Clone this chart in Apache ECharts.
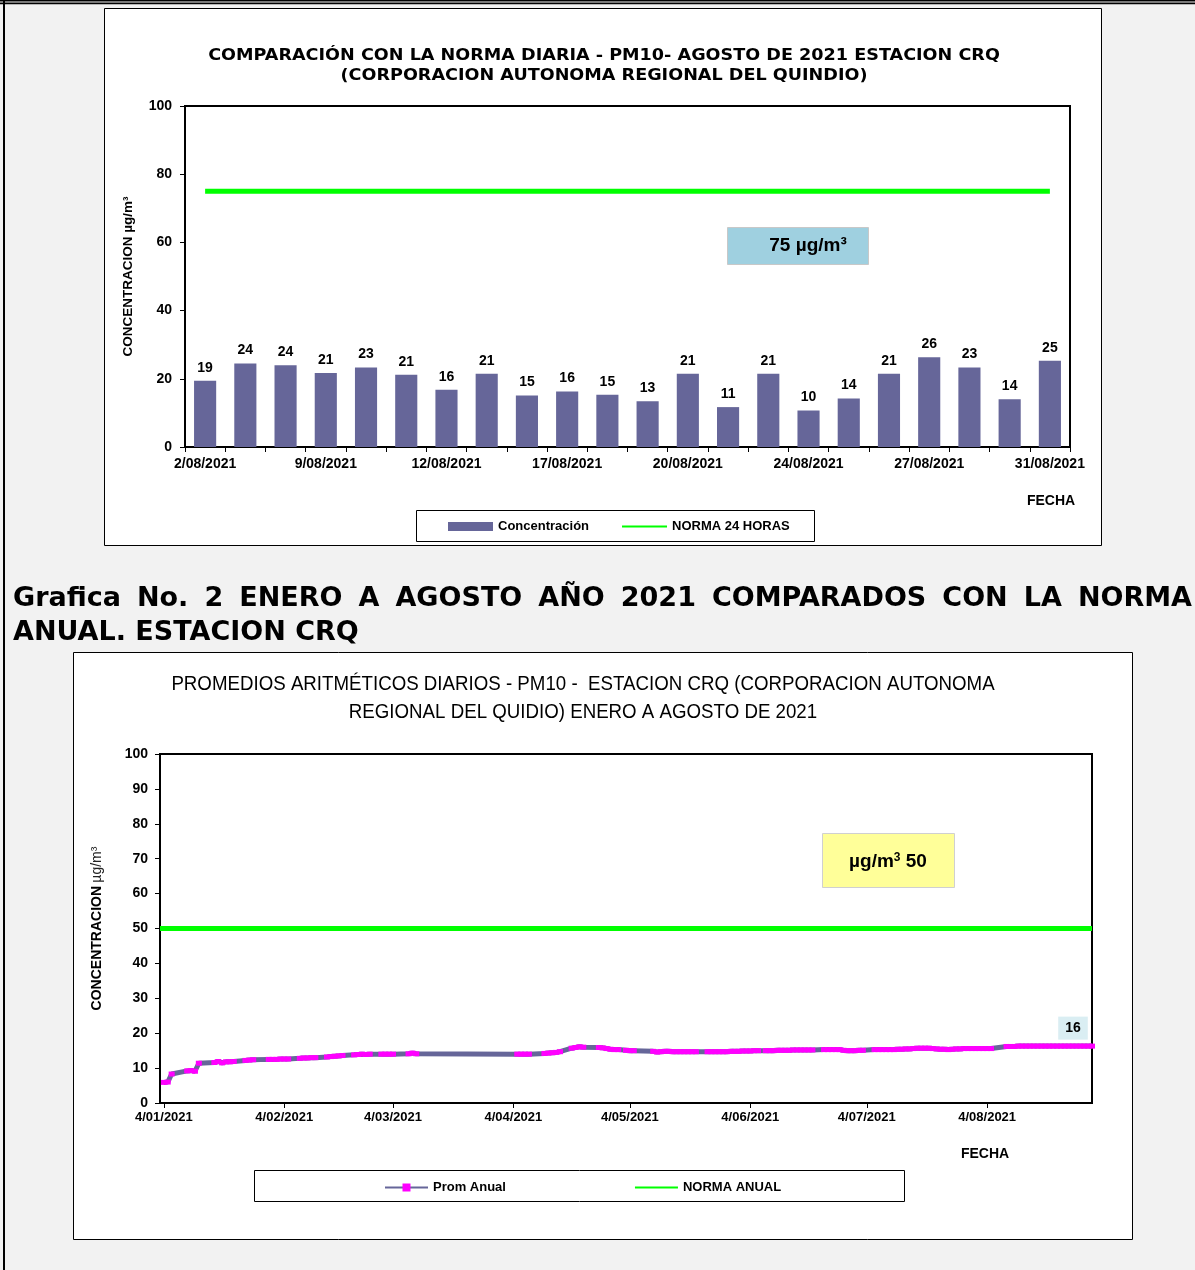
<!DOCTYPE html>
<html><head><meta charset="utf-8">
<script src="https://cdn.jsdelivr.net/npm/echarts@6/dist/echarts.min.js"></script>
<style>html,body{margin:0;padding:0;background:#f2f2f2}#c{width:1195px;height:1270px}</style>
</head><body><div id="c"></div>
<script>
// ---------- Chart 1 data (August 2021 daily PM10) ----------
const barCategories = ['2/08/2021','3/08/2021','5/08/2021','9/08/2021','10/08/2021','11/08/2021','12/08/2021','13/08/2021','16/08/2021','17/08/2021','18/08/2021','19/08/2021','20/08/2021','21/08/2021','23/08/2021','24/08/2021','25/08/2021','26/08/2021','27/08/2021','28/08/2021','30/08/2021','31/08/2021'];
const barValues = [19.4,24.5,24.0,21.7,23.3,21.2,16.8,21.5,15.1,16.3,15.3,13.4,21.5,11.7,21.5,10.7,14.2,21.5,26.3,23.3,14.0,25.3];
const normaDiaria = 75;
const yTicks1 = { min: 0, max: 100, interval: 20 };

// ---------- Chart 2 data (running annual mean, Jan-Aug 2021) ----------
const promJan = [[4,5.9],[5,6.0],[6,8.3],[10,9.2],[11,9.3],[12,9.1],[13,11.4],[17,11.6],[18,11.9],[19,11.5],[20,11.8],[21,11.8],[22,11.9],[25,12.2],[26,12.3],[27,12.4],[31,12.5]];
const promFeb = [[1,12.5],[2,12.5],[3,12.6],[4,12.6],[5,12.6],[8,12.8],[9,12.9],[10,12.9],[11,13.0],[12,13.0],[15,13.2],[16,13.3],[17,13.4],[18,13.5],[19,13.6],[22,13.8],[23,13.9],[24,14.0],[25,13.9],[26,14.0]];
const promMar = [[1,14.0],[2,14.0],[3,14.0],[4,14.0],[8,14.1],[9,14.3],[10,14.1]];
const promApr = [[5,14.0],[6,14.0],[7,14.0],[8,14.0],[12,14.2],[13,14.3],[14,14.4],[15,14.5],[16,14.7],[19,15.7],[20,15.9],[21,16.1],[22,16.0],[26,15.9],[27,15.8],[28,15.6],[29,15.4],[30,15.3]];
const promMay = [[1,15.3],[3,15.1],[4,15.0],[5,15.0],[10,14.8],[11,14.6],[12,14.7],[13,14.8],[14,14.8],[15,14.7],[16,14.7],[17,14.7],[18,14.7],[19,14.7],[20,14.7],[21,14.7],[24,14.7],[25,14.7],[26,14.7],[27,14.7],[28,14.7],[29,14.7],[30,14.8],[31,14.8]];
const promJun = [[1,14.8],[2,14.9],[3,14.9],[4,14.9],[5,15.0],[6,15.0],[8,15.0],[9,15.0],[10,15.0],[11,15.1],[12,15.1],[13,15.1],[14,15.1],[15,15.2],[16,15.2],[17,15.2],[18,15.2],[19,15.2],[20,15.2],[23,15.3],[24,15.3],[25,15.3],[26,15.3],[27,15.3],[28,15.1],[29,15.0],[30,15.0]];
const promJul = [[1,15.0],[2,15.1],[3,15.1],[6,15.3],[7,15.3],[8,15.3],[9,15.3],[10,15.3],[11,15.3],[12,15.4],[13,15.4],[14,15.5],[15,15.5],[16,15.6],[17,15.7],[18,15.7],[19,15.7],[20,15.7],[21,15.6],[22,15.5],[23,15.4],[24,15.4],[25,15.3],[26,15.4],[27,15.5],[28,15.5],[29,15.6],[30,15.6],[31,15.6]];
const promAug = [[1,15.6],[2,15.6],[3,15.6],[4,15.6],[5,15.6],[9,16.2],[10,16.2],[11,16.2],[12,16.3],[13,16.3],[14,16.3],[15,16.3],[16,16.3],[17,16.3],[18,16.3],[19,16.3],[20,16.3],[21,16.3],[22,16.3],[23,16.3],[24,16.3],[25,16.3],[26,16.3],[27,16.3],[28,16.3],[29,16.3],[30,16.3],[31,16.3]];
const normaAnual = 50;
const xStart2 = '2021-01-03', xEnd2 = '2021-08-31';
const xTickDates2 = ['2021-01-04','2021-02-04','2021-03-04','2021-04-04','2021-05-04','2021-06-04','2021-07-04','2021-08-04'];
const yTicks2 = { min: 0, max: 100, interval: 10 };

// ---------- text ----------
const title1 = ['COMPARACIÓN CON LA NORMA DIARIA - PM10- AGOSTO DE 2021 ESTACION CRQ', '(CORPORACION AUTONOMA REGIONAL DEL QUINDIO)'];
const title2 = ['PROMEDIOS ARITMÉTICOS DIARIOS - PM10 -  ESTACION CRQ (CORPORACION AUTONOMA', 'REGIONAL DEL QUIDIO) ENERO A AGOSTO DE 2021'];
const heading = ['Grafica No. 2 ENERO A AGOSTO AÑO 2021 COMPARADOS CON LA NORMA', 'ANUAL. ESTACION CRQ'];

// ---------- helpers ----------
function d(s) { const p = s.split('-').map(Number); return new Date(p[0], p[1]-1, p[2]).getTime(); }
const months = [promJan,promFeb,promMar,promApr,promMay,promJun,promJul,promAug];
const promData = [];
months.forEach((arr, m) => arr.forEach(([day, v]) => promData.push({ value: [new Date(2021, m, day).getTime(), v] })));
promData[promData.length-1].label = {
  show: true, position: 'top', distance: 4, offset: [-19, 0],
  formatter: p => Math.round(p.value[1]), fontWeight: 'bold', fontSize: 14, fontFamily: 'Liberation Sans, Arial',
  color: '#000', backgroundColor: '#daeef3', padding: [5, 7, 4, 7]
};
function fmtDate(v) { const t = new Date(v); return t.getDate() + '/' + String(t.getMonth()+1).padStart(2,'0') + '/' + t.getFullYear(); }

const AR = 'Liberation Sans, Arial, sans-serif';
const hidden = { color:'rgba(0,0,0,0)', borderWidth:0 };
const graphics = [];
// page frame
graphics.push({ type:'rect', z:-20, shape:{x:0,y:0,width:1195,height:1.6}, style:{fill:'#000'} });
graphics.push({ type:'rect', z:-20, shape:{x:0,y:2.6,width:1195,height:1.6}, style:{fill:'#000'} });
graphics.push({ type:'rect', z:-20, shape:{x:3,y:0,width:2,height:1270}, style:{fill:'#000'} });
// chart boxes
graphics.push({ type:'rect', z:-10, shape:{x:104.5,y:8.5,width:997,height:537}, style:{fill:'#fff', stroke:'#000', lineWidth:1} });
graphics.push({ type:'rect', z:-10, shape:{x:73.5,y:652.5,width:1059,height:587}, style:{fill:'#fff', stroke:'#000', lineWidth:1} });
// legend boxes
graphics.push({ type:'rect', z:-5, shape:{x:416.5,y:510.5,width:398,height:31}, style:{fill:'#fff', stroke:'#000', lineWidth:1} });
graphics.push({ type:'rect', z:-5, shape:{x:254.5,y:1170.5,width:650,height:31}, style:{fill:'#fff', stroke:'#000', lineWidth:1} });
// titles chart 1
graphics.push({ type:'text', z:50, scaleX:1.1, originX:604, style:{ text:title1[0], x:604, y:56, align:'center', verticalAlign:'middle', font:'bold 16px "DejaVu Sans"', fill:'#000' } });
graphics.push({ type:'text', z:50, scaleX:1.1, originX:604, style:{ text:title1[1], x:604, y:76, align:'center', verticalAlign:'middle', font:'bold 16px "DejaVu Sans"', fill:'#000' } });
// titles chart 2
graphics.push({ type:'text', z:50, scaleX:0.935, originX:583, style:{ text:title2[0], x:583, y:684, align:'center', verticalAlign:'middle', font:'20px "Liberation Sans"', fill:'#000' } });
graphics.push({ type:'text', z:50, scaleX:0.935, originX:583, style:{ text:title2[1], x:583, y:712, align:'center', verticalAlign:'middle', font:'20px "Liberation Sans"', fill:'#000' } });
// annotation boxes
graphics.push({ type:'rect', z:20, shape:{x:727.5,y:227.5,width:141,height:37}, style:{fill:'#9fd0e0', stroke:'#c8c8c8', lineWidth:1} });
graphics.push({ type:'text', z:21, style:{ text:'75 µg/m³', x:808, y:246, align:'center', verticalAlign:'middle', font:'bold 19px '+AR, fill:'#000' } });
graphics.push({ type:'rect', z:20, shape:{x:822.5,y:833.5,width:132,height:54}, style:{fill:'#ffff99', stroke:'#d0d0d0', lineWidth:1} });
graphics.push({ type:'text', z:21, style:{ text:'{a|µg/m}{s|3}{a| 50}', x:888, y:862, align:'center', verticalAlign:'middle',
  rich:{ a:{ font:'bold 19px '+AR, fill:'#000' }, s:{ font:'bold 12px '+AR, fill:'#000', verticalAlign:'top', padding:[0,0,8,0] } } } });
// FECHA labels
graphics.push({ type:'text', z:21, style:{ text:'FECHA', x:1051, y:501, align:'center', verticalAlign:'middle', font:'bold 14px '+AR, fill:'#000' } });
graphics.push({ type:'text', z:21, style:{ text:'FECHA', x:985, y:1154, align:'center', verticalAlign:'middle', font:'bold 14px '+AR, fill:'#000' } });
// heading (justified first line)
const HF = 'bold 27px "DejaVu Sans"';
const ctx = document.createElement('canvas').getContext('2d');
ctx.font = HF;
const words = heading[0].split(' ');
const widths = words.map(w => ctx.measureText(w).width);
const gap = (1192 - 13 - widths.reduce((a,b)=>a+b,0)) / (words.length - 1);
let hx = 13;
words.forEach((w, i) => { graphics.push({ type:'text', z:30, style:{ text:w, x:hx, y:599, align:'left', verticalAlign:'middle', font:HF, fill:'#000' } }); hx += widths[i] + gap; });
graphics.push({ type:'text', z:30, style:{ text:heading[1], x:13, y:633, align:'left', verticalAlign:'middle', font:HF, fill:'#000' } });

const chart = echarts.init(document.getElementById('c'), null, { renderer: 'canvas' });
const axisLbl = (size) => ({ color:'#000', fontWeight:'bold', fontSize:size, fontFamily:AR });
chart.setOption({
  backgroundColor: '#f2f2f2',
  animation: false,
  textStyle: { fontFamily: AR },
  grid: [
    { left:185, top:106, width:885, height:341, show:true, borderColor:'#000', borderWidth:2, backgroundColor:'#fff' },
    { left:160, top:754, width:932, height:349, show:true, borderColor:'#000', borderWidth:2, backgroundColor:'#fff' }
  ],
  xAxis: [
    { type:'category', gridIndex:0, data:barCategories, boundaryGap:true,
      axisLine:{ lineStyle:{ color:'#000', width:2 } },
      axisTick:{ show:true, interval:0, length:5, lineStyle:{ color:'#000' } },
      axisLabel:{ interval:2, margin:10, ...axisLbl(14) }, splitLine:{ show:false } },
    { type:'value', gridIndex:1, min:d(xStart2), max:d(xEnd2), scale:true,
      axisLine:{ lineStyle:{ color:'#000', width:2 } },
      axisTick:{ show:true, length:5, customValues: xTickDates2.map(d), lineStyle:{ color:'#000' } },
      axisLabel:{ customValues: xTickDates2.map(d), formatter: fmtDate, margin:8, hideOverlap:false, ...axisLbl(13) },
      splitLine:{ show:false } }
  ],
  yAxis: [
    { type:'value', gridIndex:0, ...yTicks1,
      axisLine:{ show:true, lineStyle:{ color:'#000', width:2 } },
      axisTick:{ show:true, length:5, lineStyle:{ color:'#000' } },
      axisLabel:{ margin:13, ...axisLbl(14) }, splitLine:{ show:false },
      name:'CONCENTRACION µg/m³', nameLocation:'middle', nameGap:50,
      nameTextStyle:{ color:'#000', fontWeight:'bold', fontSize:13.5, fontFamily:AR } },
    { type:'value', gridIndex:1, ...yTicks2,
      axisLine:{ show:true, lineStyle:{ color:'#000', width:2 } },
      axisTick:{ show:true, length:5, lineStyle:{ color:'#000' } },
      axisLabel:{ margin:12, ...axisLbl(14) }, splitLine:{ show:false },
      name:'{b|CONCENTRACION} {u|µg/m³}', nameLocation:'middle', nameGap:56,
      nameTextStyle:{ rich:{ b:{ color:'#000', fontWeight:'bold', fontSize:14, fontFamily:AR }, u:{ color:'#222', fontSize:14, fontFamily:AR } } } }
  ],
  legend: [
    { data:[{ name:'Concentración', icon:'rect' }, { name:'NORMA 24 HORAS', itemStyle: hidden }], left:443, top:515, itemWidth:45, itemHeight:9, itemGap:32,
      textStyle:{ color:'#000', fontWeight:'bold', fontSize:13, fontFamily:AR }, selectedMode:false },
    { data:['Prom Anual', { name:'NORMA ANUAL', itemStyle: hidden }], left:379, top:1176, itemWidth:43, itemHeight:10, itemGap:128,
      textStyle:{ color:'#000', fontWeight:'bold', fontSize:13, fontFamily:AR }, selectedMode:false }
  ],
  series: [
    { name:'Concentración', type:'bar', xAxisIndex:0, yAxisIndex:0, data:barValues, barWidth:'55%',
      itemStyle:{ color:'#666699' },
      label:{ show:true, position:'top', distance:6, formatter: p => Math.floor(p.value), color:'#000', fontWeight:'bold', fontSize:14, fontFamily:AR } },
    { name:'NORMA 24 HORAS', type:'line', xAxisIndex:0, yAxisIndex:0, data: barCategories.map(() => normaDiaria),
      symbol:'none', lineStyle:{ color:'#00ff00', width:5 }, itemStyle:{ color:'#00ff00' }, z:3 },
    { name:'Prom Anual', type:'line', xAxisIndex:1, yAxisIndex:1, data: promData,
      symbol:'rect', symbolSize:[6,5], showAllSymbol:true, connectNulls:true,
      lineStyle:{ color:'#666699', width:5 }, itemStyle:{ color:'#ff00ff', borderWidth:0 }, z:4 },
    { name:'NORMA ANUAL', type:'line', xAxisIndex:1, yAxisIndex:1, data: [[d(xStart2), normaAnual], [d(xEnd2), normaAnual]],
      symbol:'none', lineStyle:{ color:'#00ff00', width:5 }, itemStyle:{ color:'#00ff00' }, z:3 }
  ],
  graphic: graphics
});
</script></body></html>
